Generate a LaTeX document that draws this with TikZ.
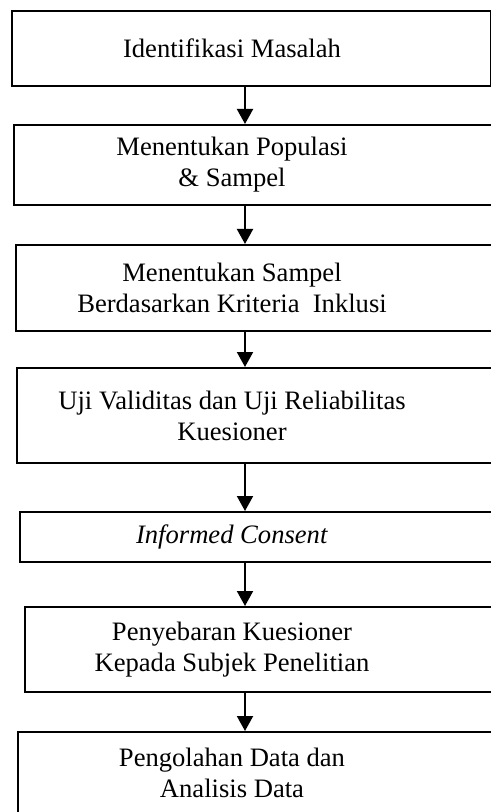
\documentclass[tikz,border=0pt]{standalone}
\usepackage{fontspec}
\setmainfont{Liberation Serif}
\usetikzlibrary{arrows.meta}

\begin{document}
\begin{tikzpicture}[x=0.5pt, y=-0.5pt, font=\fontsize{13.3}{15.5}\selectfont,
    stepbox/.style={draw=black, line width=1pt, anchor=north west, inner sep=0pt},
    steptext/.style={align=center, inner sep=0pt},
    flow/.style={draw=black, line width=1pt, -{Triangle[length=7.5pt, width=8pt]}},
  ]
  \useasboundingbox (0, 0) rectangle (491, 812);
  \clip (0, 0) rectangle (491, 812);

  % the texts sit a little left of the arrows
  \coordinate (textaxis) at (232, 0);
  \coordinate (flowaxis) at (245, 0);

  % boxes: all but the first run off the right edge
  \node[stepbox, minimum width=239.5pt, minimum height=37.5pt] (masalah) at (11, 10) {};
  \node[stepbox, minimum width=248.5pt, minimum height=40pt] (populasi) at (13, 124) {};
  \node[stepbox, minimum width=247.5pt, minimum height=43pt] (kriteria) at (15, 244) {};
  \node[stepbox, minimum width=247pt, minimum height=47.5pt] (validitas) at (16, 367) {};
  \node[stepbox, minimum width=245.5pt, minimum height=25pt] (consent) at (19, 511) {};
  \node[stepbox, minimum width=243pt, minimum height=42.5pt] (penyebaran) at (24, 606) {};
  \node[stepbox, minimum width=246.5pt, minimum height=41pt] (analisis) at (17, 731) {};

  % texts
  \node[steptext] (masalahtext) at (masalah.center -| textaxis) {Identifikasi Masalah};
  \node[steptext] (populasitext) at (populasi.center -| textaxis) {Menentukan Populasi\\ \& Sampel};
  \node[steptext] (kriteriatext) at (kriteria.center -| textaxis) {Menentukan Sampel\\ Berdasarkan Kriteria~ Inklusi};
  \node[steptext] (validitastext) at (validitas.center -| textaxis) {Uji Validitas dan Uji Reliabilitas\\ Kuesioner};
  \node[steptext] (consenttext) at (consent.center -| textaxis) {\textit{Informed Consent}};
  \node[steptext] (penyebarantext) at (penyebaran.center -| textaxis) {Penyebaran Kuesioner\\ Kepada Subjek Penelitian};
  \node[steptext] (analisistext) at (analisis.center -| textaxis) {Pengolahan Data dan\\ Analisis Data};

  % arrows
  \foreach \a/\b in {masalah/populasi, populasi/kriteria, kriteria/validitas,
      validitas/consent, consent/penyebaran, penyebaran/analisis} {
    \draw[flow] (\a.south -| flowaxis) -- (\b.north -| flowaxis);
  }
\end{tikzpicture}
\end{document}
